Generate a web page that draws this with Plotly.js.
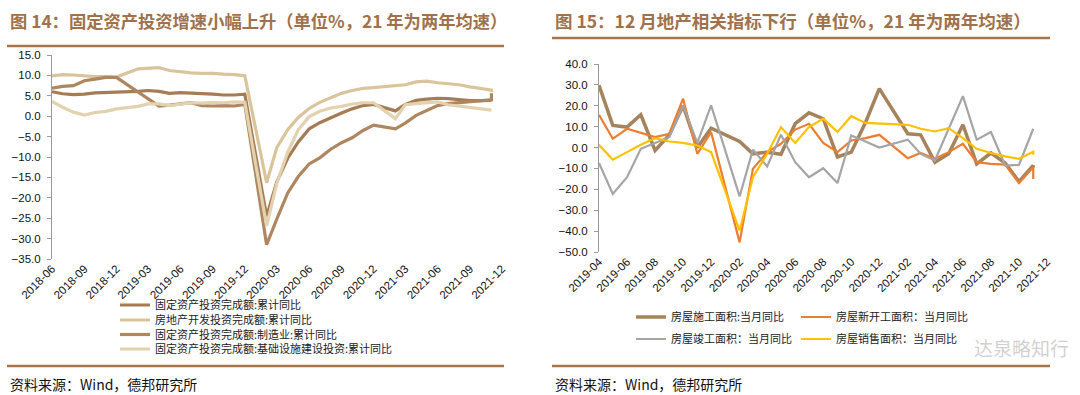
<!DOCTYPE html>
<html><head><meta charset="utf-8">
<script src="https://cdn.plot.ly/plotly-3.0.1.min.js"></script>
<style>html,body{margin:0;padding:0;background:#fff;}#chart{width:1080px;height:395px;}</style>
</head><body><div id="chart"></div>
<script>
// ---------- Figure 14 data (cumulative YoY, %, 2021 = two-year average) ----------
// The source plots its latest (December) reading at the same horizontal position as November,
// so the last date is repeated.
const leftDates = ['2018-06','2018-07','2018-08','2018-09','2018-10','2018-11','2018-12',
  '2019-02','2019-03','2019-04','2019-05','2019-06','2019-07','2019-08','2019-09','2019-10','2019-11','2019-12',
  '2020-02','2020-03','2020-04','2020-05','2020-06','2020-07','2020-08','2020-09','2020-10','2020-11','2020-12',
  '2021-02','2021-03','2021-04','2021-05','2021-06','2021-07','2021-08','2021-09','2021-10','2021-11','2021-11'];
const faiTotal = [6.0,5.5,5.3,5.4,5.7,5.9,5.9, 6.1,6.3,6.1,5.6,5.8,5.7,5.5,5.4,5.2,5.2,5.4,
  -24.5,-16.1,-10.3,-6.3,-3.1,-1.6,-0.3,0.8,1.8,2.6,2.9, 1.3,2.9,3.9,4.2,4.4,4.3,4.0,3.8,3.8,3.9,3.9];
const realEstate = [9.9,10.2,10.1,9.9,9.7,9.7,9.6, 11.6,11.8,11.9,11.2,10.9,10.6,10.5,10.5,10.3,10.2,9.9,
  -16.3,-7.7,-3.3,-0.3,1.9,3.4,4.6,5.6,6.3,6.8,7.0, 7.6,7.7,8.4,8.6,8.2,8.0,7.7,7.2,6.8,6.4,5.9];
const manufacturing = [6.9,7.3,7.5,8.7,9.1,9.5,9.5, 5.9,4.4,2.5,2.7,3.0,3.3,2.6,2.5,2.6,2.5,2.9,
  -31.5,-25.2,-18.8,-14.8,-11.7,-10.2,-8.1,-6.5,-5.3,-3.5,-2.2, -3.1,-1.7,0.2,1.3,2.6,3.1,3.3,3.6,3.8,4.0,5.6];
const infra = [3.6,2.2,1.0,0.3,0.9,1.2,1.8, 2.4,3.0,3.0,2.6,2.9,3.3,3.2,3.4,3.3,3.5,3.4,
  -26.9,-16.4,-8.8,-3.3,-0.1,1.2,2.0,2.4,3.0,3.3,3.3, -0.6,2.8,3.1,3.3,3.5,2.8,2.5,2.1,1.8,1.5,1.5];
const leftNames = ['固定资产投资完成额:累计同比','房地产开发投资完成额:累计同比',
  '固定资产投资完成额:制造业:累计同比','固定资产投资完成额:基础设施建设投资:累计同比'];
const leftTicks = ['2018-06','2018-09','2018-12','2019-03','2019-06','2019-09','2019-12','2020-03',
  '2020-06','2020-09','2020-12','2021-03','2021-06','2021-09','2021-12'];

// ---------- Figure 15 data (monthly YoY, %) ----------
const rightDates = ['2019-04','2019-05','2019-06','2019-07','2019-08','2019-09','2019-10','2019-11','2019-12',
  '2020-02','2020-03','2020-04','2020-05','2020-06','2020-07','2020-08','2020-09','2020-10','2020-11','2020-12',
  '2021-02','2021-03','2021-04','2021-05','2021-06','2021-07','2021-08','2021-09','2021-10','2021-11','2021-11'];
const underConstruction = [29.8,10.6,9.8,15.7,-1.4,6.0,20.0,0.0,9.3, 2.9,-3.0,-2.2,-3.2,11.4,16.6,13.8,-4.5,-2.2,12.0,28.2,
  6.6,6.1,-7.0,-3.0,10.9,-7.8,-2.6,-7.4,-16.3,-8.6,-9.6];
const newStarts = [15.7,4.2,9.0,7.0,5.0,6.6,23.4,-3.0,7.4, -45.4,-10.2,-2.2,1.8,8.6,11.4,2.2,-2.2,3.4,4.5,6.1,
  -5.1,-2.6,-5.4,-2.2,1.8,-7.0,-7.8,-8.2,-17.0,-9.4,-15.0];
const completed = [-7.4,-22.2,-14.2,-0.6,2.2,5.0,20.2,2.2,20.2, -23.4,-1.0,-9.0,6.1,-7.0,-14.2,-9.9,-17.0,5.8,2.9,0.0,
  3.8,-3.0,-6.2,9.3,24.6,3.8,7.4,-8.6,-8.3,9.0,9.0];
const sales = [1.3,-5.8,-2.2,1.3,4.5,2.9,2.2,1.0,-2.2, -39.8,-14.2,-3.0,9.8,2.2,9.8,13.8,7.5,15.0,11.8,11.4,
  10.9,9.0,7.7,9.3,4.5,-0.6,-2.6,-4.2,-5.4,-2.0,-3.4];
const rightNames = ['房屋施工面积:当月同比','房屋新开工面积：当月同比','房屋竣工面积：当月同比','房屋销售面积：当月同比'];
const rightTicks = ['2019-04','2019-06','2019-08','2019-10','2019-12','2020-02','2020-04','2020-06','2020-08',
  '2020-10','2020-12','2021-02','2021-04','2021-06','2021-08','2021-10','2021-12'];

const W = 1080, H = 395;
const px = v => v / W, py = v => 1 - v / H;
const numFont = {family: 'Liberation Sans, Arial, sans-serif', size: 11.5, color: '#111'};
const cjk = 'Noto Sans CJK SC, sans-serif';
const toD = s => s + '-01';

const leftColors = ['#A67C55','#D9C49C','#AE8660','#E2D2AF'];
const rightColors = ['#A5835C','#ED7D31','#A5A5A5','#FFC000'];
const rightWidths = [3.5,2.2,2.2,2.2];

const traces = [];
[faiTotal, realEstate, manufacturing, infra].forEach((arr, i) => {
  traces.push({x: leftDates.map(toD), y: arr, type: 'scatter', mode: 'lines', name: leftNames[i],
    line: {color: leftColors[i], width: 3.2}, xaxis: 'x', yaxis: 'y', legend: i === 0 ? 'legend' : 'legend' + (i + 1)});
});
[underConstruction, newStarts, completed, sales].forEach((arr, i) => {
  traces.push({x: rightDates.map(toD), y: arr, type: 'scatter', mode: 'lines', name: rightNames[i],
    line: {color: rightColors[i], width: rightWidths[i]}, xaxis: 'x2', yaxis: 'y2', legend: 'legend' + (i + 5)});
});

const yL = [py(259), py(55)], yR = [py(252), py(64)];
const rangeL = [-35, 15], rangeR = [-50, 40];
const zeroPos = (dom, r) => dom[0] + (0 - r[0]) / (r[1] - r[0]) * (dom[1] - dom[0]);

function legendAt(x, y) {
  return {x: px(x), y: py(y), xanchor: 'left', yanchor: 'middle', bgcolor: 'rgba(0,0,0,0)',
    font: {family: cjk, size: 11, color: '#222'}, itemwidth: 30, tracegroupgap: 0};
}

const layout = {
  width: W, height: H, margin: {l: 0, r: 0, t: 0, b: 0}, paper_bgcolor: '#fff', plot_bgcolor: 'rgba(0,0,0,0)',
  showlegend: true,
  xaxis: {domain: [px(52), px(502)], type: 'date', range: [toD('2018-06'), toD('2021-12')], anchor: 'y',
    tickmode: 'array', tickvals: leftTicks.map(toD), ticktext: leftTicks, tickangle: -45, ticks: '',
    showgrid: false, showline: false, zeroline: false, tickfont: numFont},
  yaxis: {domain: yL, range: rangeL, dtick: 5, tick0: 0, tickformat: '.1f', anchor: 'x', showgrid: false, zeroline: false,
    showline: true, linecolor: '#9a9a9a', linewidth: 1, ticks: 'outside', ticklen: 4, tickcolor: '#9a9a9a',
    ticklabelstandoff: 4, tickfont: numFont},
  xaxis3: {overlaying: 'x', anchor: 'free', position: zeroPos(yL, rangeL), type: 'date',
    range: [toD('2018-06'), toD('2021-12')], tickmode: 'array', tickvals: leftTicks.map(toD), showticklabels: false,
    ticks: 'outside', ticklen: 4, tickcolor: '#9a9a9a', showline: true, linecolor: '#9a9a9a', linewidth: 1, showgrid: false},
  xaxis2: {domain: [px(599), px(1047)], type: 'date', range: [toD('2019-04'), toD('2021-12')], anchor: 'y2',
    tickmode: 'array', tickvals: rightTicks.map(toD), ticktext: rightTicks, tickangle: -45, ticks: '',
    showgrid: false, showline: false, zeroline: false, tickfont: numFont},
  yaxis2: {domain: yR, range: rangeR, dtick: 10, tick0: 0, tickformat: '.1f', anchor: 'x2', showgrid: false, zeroline: false,
    showline: true, linecolor: '#9a9a9a', linewidth: 1, ticks: 'outside', ticklen: 4, tickcolor: '#9a9a9a',
    ticklabelstandoff: 4, tickfont: numFont},
  xaxis4: {overlaying: 'x2', anchor: 'free', position: zeroPos(yR, rangeR), type: 'date',
    range: [toD('2019-04'), toD('2021-12')], tickmode: 'array', tickvals: rightTicks.map(toD), showticklabels: false,
    ticks: 'outside', ticklen: 4, tickcolor: '#9a9a9a', showline: true, linecolor: '#9a9a9a', linewidth: 1, showgrid: false},
  legend: legendAt(115, 305),
  legend2: legendAt(115, 320),
  legend3: legendAt(115, 334.5),
  legend4: legendAt(115, 349),
  legend5: legendAt(631, 317),
  legend6: legendAt(796, 317),
  legend7: legendAt(631, 339),
  legend8: legendAt(796, 339),
  shapes: [
    {type: 'line', xref: 'paper', yref: 'paper', x0: px(7), x1: px(504), y0: py(46), y1: py(46), line: {color: '#A8744A', width: 2.5}},
    {type: 'line', xref: 'paper', yref: 'paper', x0: px(7), x1: px(504), y0: py(366), y1: py(366), line: {color: '#A8744A', width: 2.5}},
    {type: 'line', xref: 'paper', yref: 'paper', x0: px(552), x1: px(1050), y0: py(38), y1: py(38), line: {color: '#A8744A', width: 2.5}},
    {type: 'line', xref: 'paper', yref: 'paper', x0: px(552), x1: px(1050), y0: py(366), y1: py(366), line: {color: '#A8744A', width: 2.5}}
  ],
  annotations: [
    {text: '图 14：固定资产投资增速小幅上升（单位%，21 年为两年均速）', xref: 'paper', yref: 'paper', x: px(8), y: py(21),
      xanchor: 'left', yanchor: 'middle', showarrow: false, font: {family: cjk, size: 17.3, color: '#A0714A', weight: 'bold'}},
    {text: '图 15：12 月地产相关指标下行（单位%，21 年为两年均速）', xref: 'paper', yref: 'paper', x: px(553), y: py(21),
      xanchor: 'left', yanchor: 'middle', showarrow: false, font: {family: cjk, size: 17.5, color: '#A0714A', weight: 'bold'}},
    {text: '资料来源：Wind，德邦研究所', xref: 'paper', yref: 'paper', x: px(8), y: py(384),
      xanchor: 'left', yanchor: 'middle', showarrow: false, font: {family: cjk, size: 14, color: '#111'}},
    {text: '资料来源：Wind，德邦研究所', xref: 'paper', yref: 'paper', x: px(553), y: py(384),
      xanchor: 'left', yanchor: 'middle', showarrow: false, font: {family: cjk, size: 14, color: '#111'}},
    {text: '达泉略知行', xref: 'paper', yref: 'paper', x: px(972), y: py(347),
      xanchor: 'left', yanchor: 'middle', showarrow: false, font: {family: cjk, size: 19, color: 'rgba(150,150,150,0.45)'}}
  ]
};

Plotly.newPlot('chart', traces, layout, {displayModeBar: false, staticPlot: true});
</script></body></html>
